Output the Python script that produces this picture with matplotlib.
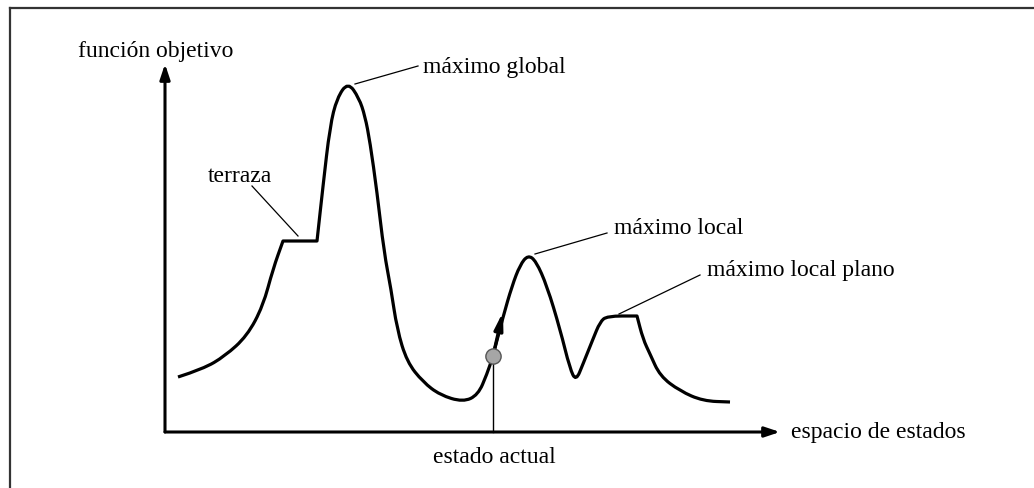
import matplotlib
matplotlib.use("Agg")
import matplotlib.pyplot as plt
from matplotlib.lines import Line2D
from matplotlib.path import Path
from matplotlib.patches import PathPatch

# landscape curve (state space vs objective function), arbitrary units
state = [13, 38, 60, 82, 98, 108, 118, 152, 158, 165, 172, 183, 194, 200,
         205, 212, 219, 226, 232, 242, 258, 275, 298, 313, 322, 328, 338,
         347, 355, 363, 371, 382, 395, 405, 411, 418, 428, 435, 442, 472,
         478, 485, 495, 515, 538, 565]
objective = [55, 63, 76, 96, 126, 163, 191, 191, 246, 306, 334, 350, 334, 316,
             290, 240, 180, 143, 103, 70, 50, 37, 30, 37, 58, 76, 115,
             146, 167, 177, 171, 146, 103, 63, 51, 68, 93, 110, 116, 116,
             93, 78, 56, 41, 31, 30]
# kinks in the curve (terrace edges, end of flat local maximum)
sharp = [6, 7, 39]

current_state = 328
current_value = 76
step_to = (338, 120)

labels = ["terraza", "máximo global", "máximo local", "máximo local plano"]
leader_from = [(133, 196), (190, 348), (370, 178), (454, 118)]
leader_to = [(87, 246), (253, 366), (442, 199), (535, 157)]
label_pos = [(43, 251), (258, 360), (449, 199), (542, 157)]

plt.rcParams["font.family"] = ["Liberation Serif", "DejaVu Serif"]

fig = plt.figure(figsize=(10.34, 4.89), dpi=100)
ax = fig.add_axes([0, 0, 1, 1])
ax.set_xlim(-165, 869)
ax.set_ylim(-56, 433)
ax.axis("off")

# frame (top and left edges only)
fig.add_artist(Line2D([10 / 1034, 1], [1 - 9 / 489, 1 - 9 / 489], color="#333333", lw=1.6))
fig.add_artist(Line2D([10 / 1034, 10 / 1034], [0, 1 - 9 / 489], color="#333333", lw=1.6))

arrow = dict(arrowstyle="-|>,head_length=0.9,head_width=0.3", color="black",
             lw=2.2, shrinkA=0, shrinkB=0)
ax.annotate("", xy=(0, 368), xytext=(0, 0), arrowprops=arrow)
ax.annotate("", xy=(615, 0), xytext=(0, 0), arrowprops=arrow)

# smooth path through the curve points (quadratic pieces between midpoints)
pts = list(zip(state, objective))
verts = [pts[0]]
codes = [Path.MOVETO]
for i in range(1, len(pts) - 1):
    mid = ((pts[i][0] + pts[i + 1][0]) / 2, (pts[i][1] + pts[i + 1][1]) / 2)
    verts += [pts[i], mid]
    if i in sharp:
        codes += [Path.LINETO, Path.LINETO]
    else:
        codes += [Path.CURVE3, Path.CURVE3]
verts.append(pts[-1])
codes.append(Path.LINETO)
ax.add_patch(PathPatch(Path(verts, codes), fill=False, lw=2.3, ec="black",
                       joinstyle="round", capstyle="butt"))

# current state marker and step arrow
ax.plot([current_state, current_state], [0, current_value], color="black", lw=1.0)
ax.annotate("", xy=step_to, xytext=(current_state, current_value),
            arrowprops=dict(arrowstyle="-|>,head_length=1.0,head_width=0.25",
                            color="black", lw=2.4, shrinkA=0, shrinkB=0))
ax.plot(current_state, current_value, "o", ms=11, mfc="#a6a6a6", mec="#555555",
        mew=1.0, zorder=5)

for lab, p0, p1, pos in zip(labels, leader_from, leader_to, label_pos):
    ax.plot([p0[0], p1[0]], [p0[1], p1[1]], color="black", lw=0.9)
    ax.text(pos[0], pos[1], lab, fontsize=17, ha="left", va="baseline")

ax.text(-87, 376, "función objetivo", fontsize=17, ha="left", va="baseline")
ax.text(626, -5, "espacio de estados", fontsize=17, ha="left", va="baseline")
ax.text(268, -30, "estado actual", fontsize=17, ha="left", va="baseline")

fig.savefig("out.png", dpi=100)
